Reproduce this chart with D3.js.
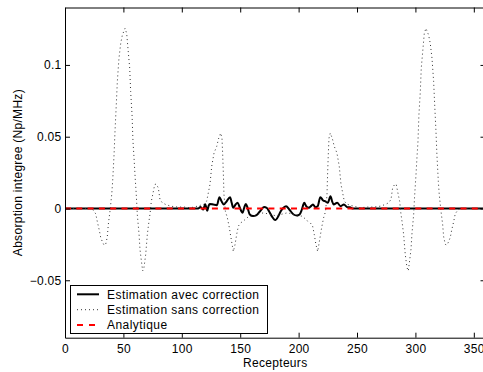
<!DOCTYPE html>
<html><head><meta charset="utf-8">
<script src="https://cdn.jsdelivr.net/npm/d3@7"></script>
<style>html,body{margin:0;padding:0;background:#fff;}svg{display:block;}text{font-family:"Liberation Sans",Arial,sans-serif;}</style>
</head><body>
<svg id="chart" width="483" height="372"></svg>
<script>
// ---- data ----
const xTicks = [0, 50, 100, 150, 200, 250, 300, 350];
const yTicks = [-0.05, 0, 0.05, 0.1];
const yTickLabels = ["\u22120.05", "0", "0.05", "0.1"];
const seriesNames = ["Estimation avec correction", "Estimation sans correction", "Analytique"];

// Estimation avec correction: [recepteur, absorption]
const avecX = [0,20,40,60,80,100,108,114,116,118.4,120,121.8,123,124,127,130,132.2,134,136,138.4,141.3,142.7,144,146,147.8,149.7,152,153.4,154.8,156.3,158.2,161,164,167,170.4,172.7,174.7,177,180,182.7,184.7,187,189.3,192,195.7,198.5,200.8,202.8,204.8,206.5,208.5,210,212.3,214.3,216.3,218.6,221,223,225,227.3,228.7,230,233,236,238.8,241.8,244,246,250,260,280,300,320,340,360];
const avecY = [0,0,0,0,0,0,0,0,0.001,-0.0007,0.003,-0.0016,0.002,0.0032,0.0028,0.0023,0.0079,0.005,0.0028,0.005,0.0079,0.004,0.0005,0.0028,0.004,0.0005,-0.003,0.0005,0.0032,0.0005,-0.0042,-0.0053,-0.0046,-0.0019,0.001,0.0005,-0.0019,-0.0053,-0.0081,-0.0053,-0.0019,0.0005,0.0016,-0.0007,-0.0042,-0.0049,-0.0042,-0.0007,0.004,0.0016,0.0005,0.0012,0.0028,0.0009,0.0016,0.0079,0.0056,0.005,0.004,0.0086,0.005,0.0028,0.004,0.0016,0.0028,0.0009,0.0009,0,0,0,0,0,0,0,0];

// Estimation sans correction
const sansX = [0,10,20,22,24,26.3,27.7,29.4,30.5,31.9,33.4,34.8,36.2,37.1,38.5,40,40.8,42,42.8,43.9,44.8,46.2,47.7,49.1,51.4,52.8,53.9,55.4,56.2,57.4,58.2,59.1,59.9,61.1,61.9,63.4,64.2,65.4,66.5,67.6,69.1,70.5,71.9,72.8,73.9,75.1,76.8,78,79.9,81.3,83.3,86.2,90.5,96.3,102,107.6,113.3,119,121.3,124.1,125.6,127.6,129.9,131.6,133.3,134.4,135,135.6,136.1,137.3,139,140.7,142.1,143.3,144.1,145.6,147,148.4,150.4,152.7,155,157.8,161.2,165,170,175,180.2,
  185.4,190.4,195.4,199.2,202.6,205.4,207.7,210,212,213.4,214.8,216.3,217.1,218.3,219.7,221.4,223.1,224.3,224.8,225.4,226,227.1,228.8,230.5,232.8,234.8,236.3,239.1,241.4,247.1,252.8,258.4,264.1,269.9,274.2,277.1,279.1,280.5,282.4,283.6,285.3,286.5,287.6,288.5,289.9,291.3,292.8,293.9,295,296.2,297,298.5,299.3,300.5,301.3,302.2,303,304.2,305,306.5,307.6,309,311.3,312.7,314.2,315.6,316.5,317.6,318.4,319.6,320.4,321.9,323.3,324.2,325.6,327,328.5,329.9,331,332.7,334.1,336.4,338.4,340.4,350.4,360];
const sansY = [0,0,0,0,-0.001,-0.0037,-0.0093,-0.0153,-0.0199,-0.023,-0.0255,-0.025,-0.0199,-0.011,-0.0019,0.0097,0.019,0.0375,0.0537,0.0722,0.0884,0.1046,0.115,0.1208,0.1255,0.122,0.1116,0.0977,0.0815,0.0653,0.0468,0.0352,0.0236,0.0085,-0.0042,-0.018,-0.0285,-0.0366,-0.0435,-0.0412,-0.032,-0.018,-0.0088,-0.0037,0.005,0.0097,0.0167,0.017,0.0144,0.0063,0.004,0.0028,0.0016,0.001,0.001,0.0005,0.0016,0.003,0.0051,0.0167,0.0294,0.0387,0.0433,0.049,0.0525,0.049,0.0375,0.0236,0.0097,-0.0019,-0.0065,-0.0134,-0.0204,-0.0262,-0.030,-0.025,-0.018,-0.0123,-0.01,-0.0088,-0.007,-0.0053,-0.0053,-0.004,-0.003,-0.004,-0.005,
  -0.004,-0.003,-0.004,-0.0053,-0.0053,-0.007,-0.0088,-0.01,-0.0123,-0.018,-0.025,-0.030,-0.0262,-0.0204,-0.0134,-0.0065,-0.0019,0.0097,0.0236,0.0375,0.049,0.0525,0.049,0.0433,0.0387,0.0294,0.0167,0.0051,0.003,0.0016,0.0005,0.001,0.001,0.0016,0.0028,0.004,0.0063,0.0144,0.017,0.0167,0.0097,0.005,-0.0037,-0.0088,-0.018,-0.032,-0.0412,-0.0435,-0.0366,-0.0285,-0.018,-0.0042,0.0085,0.0236,0.0352,0.0468,0.0653,0.0815,0.0977,0.1116,0.122,0.1255,0.1208,0.115,0.1046,0.0884,0.0722,0.0537,0.0375,0.019,0.0097,-0.0019,-0.011,-0.0199,-0.025,-0.0255,-0.023,-0.0199,-0.0153,-0.0093,-0.0037,-0.001,0,0,0,0];

// Analytique
const anaX = [0, 360];
const anaY = [0, 0];

// ---- chart ----
const FS = 12, LS = "0.3px";
const svg = d3.select("#chart");
const L = 65, R = 485.5, T = 7.5, B = 337.7;
const x = d3.scaleLinear().domain([0, 360]).range([L, R]);
const y = d3.scaleLinear().domain([-0.09, 0.14]).range([B, T]);

svg.append("defs").append("clipPath").attr("id", "clip")
  .append("rect").attr("x", L).attr("y", T).attr("width", R - L).attr("height", B - T);

const zip = (a, b) => a.map((v, i) => [v, b[i]]);
const line = d3.line().x(d => x(d[0])).y(d => y(d[1]));
const smooth = d3.line().x(d => x(d[0])).y(d => y(d[1])).curve(d3.curveMonotoneX);
const g = svg.append("g").attr("clip-path", "url(#clip)");

g.append("path").datum(zip(avecX, avecY)).attr("d", smooth)
  .attr("fill", "none").attr("stroke", "#000").attr("stroke-width", 2).attr("stroke-linejoin", "round");
g.append("path").datum(zip(sansX, sansY)).attr("d", line)
  .attr("fill", "none").attr("stroke", "#333").attr("stroke-width", 1).attr("stroke-dasharray", "1,3");
g.append("path").datum(zip(anaX, anaY)).attr("d", line)
  .attr("fill", "none").attr("stroke", "#ff0000").attr("stroke-width", 2).attr("stroke-dasharray", "6,5.3");

// axes
const axB = d3.axisBottom(x).tickValues(xTicks).tickSizeInner(-5).tickSizeOuter(0).tickPadding(6.3).tickFormat(d3.format("d"));
const axT = d3.axisTop(x).tickValues(xTicks).tickSizeInner(-5).tickSizeOuter(0).tickFormat("");
const axL = d3.axisLeft(y).tickValues(yTicks).tickSizeInner(-5).tickSizeOuter(0).tickPadding(3.5).tickFormat((d, i) => yTickLabels[i]);
const axR = d3.axisRight(y).tickValues(yTicks).tickSizeInner(-5).tickSizeOuter(0).tickFormat("");

function style(sel) {
  sel.selectAll("path").attr("stroke", "#000").attr("stroke-width", 1);
  sel.selectAll("line").attr("stroke", "#000");
  sel.selectAll("text").attr("font-size", FS).attr("letter-spacing", LS).attr("fill", "#000")
    .attr("font-family", "Liberation Sans, Arial, sans-serif");
}
style(svg.append("g").attr("transform", `translate(0,${B})`).call(axB));
style(svg.append("g").attr("transform", `translate(0,${T})`).call(axT));
style(svg.append("g").attr("transform", `translate(${L},0)`).call(axL));
style(svg.append("g").attr("transform", `translate(${R},0)`).call(axR));

// axis labels
svg.append("text").attr("x", (L + R) / 2).attr("y", 366.5).attr("text-anchor", "middle")
  .attr("font-size", FS).attr("letter-spacing", LS).text("Recepteurs");
svg.append("text").attr("transform", `translate(22,${(T + B) / 2}) rotate(-90)`).attr("text-anchor", "middle")
  .attr("font-size", FS).attr("letter-spacing", LS).text("Absorption integree (Np/MHz)");

// legend
const lg = svg.append("g");
lg.append("rect").attr("x", 70.5).attr("y", 285.5).attr("width", 197).attr("height", 48)
  .attr("fill", "#fff").attr("stroke", "#000").attr("stroke-width", 1);
const lgStyles = [
  {stroke: "#000", w: 2, dash: null},
  {stroke: "#333", w: 1, dash: "1,3"},
  {stroke: "#ff0000", w: 2, dash: "6,6"}
];
const lgY = [294.3, 309.7, 325];
seriesNames.forEach((name, i) => {
  lg.append("line").attr("x1", 77).attr("x2", 99).attr("y1", lgY[i]).attr("y2", lgY[i])
    .attr("stroke", lgStyles[i].stroke).attr("stroke-width", lgStyles[i].w)
    .attr("stroke-dasharray", lgStyles[i].dash);
  lg.append("text").attr("x", 107).attr("y", lgY[i]).attr("dy", "0.35em")
    .attr("font-size", FS).attr("letter-spacing", "0.45px").text(name);
});
</script>
</body></html>
